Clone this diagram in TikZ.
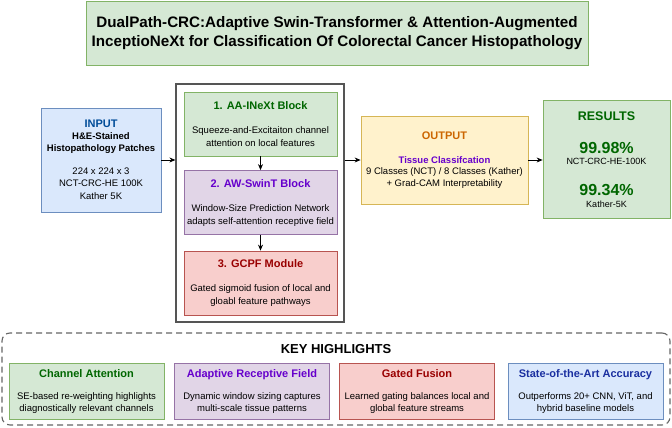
\documentclass[tikz,border=0pt]{standalone}
\usepackage{fontspec}
\setmainfont{Liberation Sans}
\usetikzlibrary{arrows.meta}
\definecolor{gF}{HTML}{D5E8D4}\definecolor{gL}{HTML}{82B366}
\definecolor{bF}{HTML}{DAE8FC}\definecolor{bL}{HTML}{6C8EBF}
\definecolor{pF}{HTML}{E1D5E7}\definecolor{pL}{HTML}{9673A6}
\definecolor{rF}{HTML}{F8CECC}\definecolor{rL}{HTML}{B85450}
\definecolor{yF}{HTML}{FFF2CC}\definecolor{yL}{HTML}{D6B656}
\definecolor{gT}{HTML}{006600}\definecolor{bT}{HTML}{004C99}
\definecolor{sT}{HTML}{1A2FA0}\definecolor{pT}{HTML}{6600CC}
\definecolor{rT}{HTML}{990000}\definecolor{oT}{HTML}{CC6600}
\definecolor{cL}{HTML}{555555}\definecolor{dL}{HTML}{666666}
\tikzset{
  box/.style={draw, line width=0.8pt, inner sep=0pt, align=center,
    font=\fontsize{9.5}{13}\selectfont},
  gbox/.style={box, fill=gF, draw=gL},
  bbox/.style={box, fill=bF, draw=bL},
  pbox/.style={box, fill=pF, draw=pL},
  rbox/.style={box, fill=rF, draw=rL},
  ybox/.style={box, fill=yF, draw=yL},
  inner/.style={minimum width=153pt, minimum height=64pt},
  hl/.style={minimum width=155pt, minimum height=56pt},
  arr/.style={draw=black, line width=0.8pt, -{Stealth[length=6pt,width=5pt]}},
}
\newcommand\hd[2]{{\fontsize{11}{13}\selectfont\bfseries\color{#1}#2}}
\begin{document}
\begin{tikzpicture}[x=1pt,y=-1pt]
\useasboundingbox (0,0) rectangle (672,428);
% title
\node[gbox, minimum width=502pt, minimum height=64pt,
  font=\fontsize{15.2}{19}\selectfont\bfseries] (title) at (337,33)
  {DualPath-CRC:Adaptive Swin-Transformer \& Attention-Augmented\\
   InceptioNeXt for Classification Of Colorectal Cancer Histopathology};
% input
\node[bbox, minimum width=120pt, minimum height=104pt,
  font=\fontsize{9.5}{12.5}\selectfont] (input) at (101,160)
  {\hd{bT}{INPUT}\\[-1pt]
   {\bfseries H\&E-Stained}\\
   {\bfseries Histopathology Patches}\\[10pt]
   224 x 224 x 3\\ NCT-CRC-HE 100K\\ Kather 5K};
% container
\node[draw=cL, line width=1.2pt, fill=white, minimum width=168pt,
  minimum height=238pt, inner sep=0pt] (cont) at (260,203) {};
\node[gbox, inner] (aa) at (260.5,124)
  {\hd{gT}{1. AA-INeXt Block}\\[11pt]
   Squeeze-and-Excitaiton channel\\ attention on local features};
\node[pbox, inner] (aw) at (260.5,202.5)
  {\hd{pT}{2. AW-SwinT Block}\\[11pt]
   Window-Size Prediction Network\\ adapts self-attention receptive field};
\node[rbox, inner] (gc) at (260.5,283)
  {\hd{rT}{3. GCPF Module}\\[11pt]
   Gated sigmoid fusion of local and\\ gloabl feature pathways};
% output
\node[ybox, minimum width=167pt, minimum height=88pt,
  font=\fontsize{9.5}{11.5}\selectfont] (out) at (444.5,160)
  {\hd{oT}{OUTPUT}\\[12pt]
   {\bfseries\color{pT}Tissue Classifcation}\\
   9 Classes (NCT) / 8 Classes (Kather)\\
   + Grad-CAM Interpretability};
% results
\node[gbox, minimum width=127pt, minimum height=118pt,
  font=\fontsize{9}{11}\selectfont] (res) at (606.5,159.5)
  {{\fontsize{12.5}{14}\selectfont\bfseries\color{gT}RESULTS}\\[21pt]
   {\fontsize{16}{18}\selectfont\bfseries\color{gT}99.98\%}\\[0pt]
   NCT-CRC-HE-100K\\[19pt]
   {\fontsize{16}{18}\selectfont\bfseries\color{gT}99.34\%}\\[1pt]
   Kather-5K};
% arrows
\draw[arr] (input.east) -- (cont.west |- input.east);
\draw[arr] (cont.east |- out.west) -- (out.west);
\draw[arr] (out.east) -- (res.west |- out.east);
\draw[arr] (aa.south) -- (aw.north);
\draw[arr] (aw.south) -- (gc.north);
% highlights
\node[draw=dL, dashed, dash pattern=on 6pt off 4pt, line width=1.1pt,
  rounded corners=8pt, minimum width=668pt, minimum height=92pt,
  inner sep=0pt] (kh) at (336,379) {};
\node[font=\fontsize{13}{15}\selectfont\bfseries, inner sep=0pt] (khl)
  at (336,349) {KEY HIGHLIGHTS};
\node[gbox, hl, font=\fontsize{9.5}{11.5}\selectfont] (h1) at (86.5,391)
  {\hd{gT}{Channel Attention}\\[11pt]
   SE-based re-weighting highlights\\ diagnostically relevant channels};
\node[pbox, hl, font=\fontsize{9.5}{11.5}\selectfont] (h2) at (252,391)
  {\hd{pT}{Adaptive Receptive Field}\\[11pt]
   Dynamic window sizing captures\\ multi-scale tissue patterns};
\node[rbox, hl, font=\fontsize{9.5}{11.5}\selectfont] (h3) at (417,391)
  {\hd{rT}{Gated Fusion}\\[11pt]
   Learned gating balances local and\\ global feature streams};
\node[bbox, hl, font=\fontsize{9.5}{11.5}\selectfont] (h4) at (585.5,391)
  {\hd{sT}{State-of-the-Art Accuracy}\\[11pt]
   Outperforms 20+ CNN, ViT, and\\ hybrid baseline models};
\end{tikzpicture}
\end{document}
